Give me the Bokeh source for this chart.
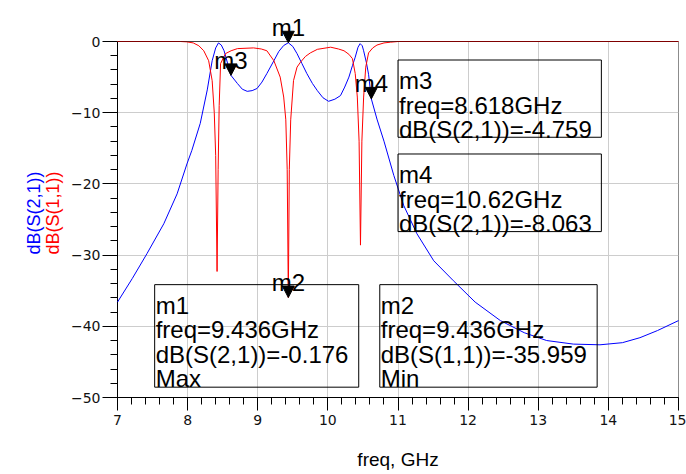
from bokeh.plotting import figure
from bokeh.models import Range1d, FixedTicker, Span, ColumnDataSource
from bokeh.core.properties import value
from bokeh.embed import file_html
from bokeh.resources import INLINE

# ---------------- data ----------------
freq_s21 = [7.0, 7.21, 7.42, 7.66, 7.85, 7.99, 8.06, 8.18, 8.28, 8.35, 8.40, 8.44,
            8.48, 8.52, 8.618, 8.71, 8.78, 8.85, 8.92, 8.99, 9.06, 9.13, 9.23, 9.30,
            9.37, 9.436, 9.50, 9.56, 9.63, 9.70, 9.78, 9.85, 9.93, 10.01, 10.10,
            10.18, 10.24, 10.30, 10.35, 10.39, 10.43, 10.46, 10.49, 10.51, 10.55,
            10.58, 10.62, 10.70, 10.80, 10.94, 11.08, 11.27, 11.51, 11.79, 12.10,
            12.46, 12.80, 13.12, 13.50, 13.88, 14.20, 14.45, 14.70, 15.0]
db_s21 = [-36.6, -33.3, -29.8, -25.6, -21.4, -17.2, -15.3, -11.5, -6.8, -2.7, -0.9, -0.2,
          -0.5, -1.3, -4.759, -5.9, -6.7, -7.0, -6.9, -6.6, -5.7, -4.5, -2.7, -1.4,
          -0.56, -0.176, -0.7, -1.7, -3.1, -4.5, -5.9, -6.9, -7.9, -8.4, -8.1,
          -7.6, -6.4, -5.0, -3.4, -2.2, -0.8, -0.3, -0.6, -1.3, -3.0,
          -4.6, -8.063, -10.9, -14.0, -18.8, -23.0, -27.0, -30.8, -33.6, -36.6,
          -39.2, -40.9, -42.0, -42.5, -42.6, -42.3, -41.6, -40.6, -39.2]

freq_s11 = [7.0, 7.5, 7.9, 7.99, 8.08, 8.16, 8.23, 8.30, 8.35, 8.38, 8.40, 8.42,
            8.435, 8.45, 8.47, 8.54, 8.62, 8.71, 8.94, 9.05, 9.13, 9.23, 9.32, 9.37,
            9.40, 9.42, 9.436, 9.45, 9.47, 9.51, 9.56, 9.61, 9.68, 9.75, 9.85,
            10.04, 10.15, 10.23, 10.30, 10.35, 10.39, 10.42, 10.445, 10.465, 10.485,
            10.51, 10.54, 10.58, 10.64, 10.70, 10.80, 10.89, 11.0, 15.0]
db_s11 = [0.0, 0.0, 0.0, -0.05, -0.2, -0.6, -1.3, -2.7, -5.5, -10.0, -16.0, -32.3,
          -18.0, -9.0, -3.1, -1.7, -1.3, -1.0, -0.9, -1.05, -1.3, -2.7, -5.0, -7.8,
          -11.0, -18.0, -35.959, -18.0, -11.0, -5.5, -3.6, -2.9, -2.1, -1.6, -1.1,
          -0.8, -1.05, -1.3, -1.8, -2.4, -4.5, -7.8, -14.0, -28.6, -14.0,
          -7.8, -3.6, -1.6, -0.9, -0.5, -0.2, -0.1, 0.0, 0.0]

marker_names = ["m1", "m2", "m3", "m4"]
marker_freq = [9.436, 9.436, 8.618, 10.62]
marker_db = [-0.176, -35.959, -4.759, -8.063]
marker_trace = ["S(2,1)", "S(1,1)", "S(2,1)", "S(2,1)"]
marker_note = ["Max", "Min", "", ""]

x_ticks = [7, 8, 9, 10, 11, 12, 13, 14, 15]
y_ticks = [-50, -40, -30, -20, -10, 0]

# ---------------- layout ----------------
W, H = 686, 474
B_LEFT, B_RIGHT, B_TOP, B_BOTTOM = 117, 8, 41, 77
X0, X1, Y0, Y1 = 7, 15, -50, 0
PXX = (W - B_LEFT - B_RIGHT) / (X1 - X0)
PXY = (H - B_TOP - B_BOTTOM) / (Y1 - Y0)

def dx(px):
    return px / PXX

def dy(px):
    return px / PXY

p = figure(width=W, height=H, output_backend="svg", toolbar_location=None,
           x_range=Range1d(X0, X1), y_range=Range1d(Y0, Y1),
           min_border_left=B_LEFT, min_border_right=B_RIGHT,
           min_border_top=B_TOP, min_border_bottom=B_BOTTOM)
p.background_fill_color = "white"
p.border_fill_color = "white"
p.outline_line_color = "#8c8c8c"
p.outline_line_width = 1

xminor = [round(X0 + i * 0.2, 2) for i in range(int((X1 - X0) / 0.2) + 1)]
yminor = [Y0 + 2 * i for i in range(int((Y1 - Y0) / 2) + 1)]
p.xaxis.ticker = FixedTicker(ticks=x_ticks, minor_ticks=xminor)
p.yaxis.ticker = FixedTicker(ticks=y_ticks, minor_ticks=yminor)

for ax, mto in ((p.xaxis, 13), (p.yaxis, 15)):
    ax.axis_line_color = "black"
    ax.axis_line_width = 1
    ax.major_tick_line_color = "black"
    ax.minor_tick_line_color = "black"
    ax.major_tick_in = 0
    ax.minor_tick_in = 0
    ax.major_tick_out = mto
    ax.minor_tick_out = 7
    ax.major_label_text_font = "DejaVu Sans"
    ax.major_label_text_font_size = "14px"
    ax.major_label_text_color = "#111111"
p.xaxis.major_label_standoff = 4
p.yaxis.major_label_standoff = 2

p.grid.grid_line_color = "#cdcdcd"
p.grid.grid_line_width = 1

p.add_layout(Span(location=0, dimension="width", line_color="black", line_width=1))

# curves
p.line(freq_s21, db_s21, line_color="#0000ff", line_width=1, level="annotation")
p.line(freq_s11, db_s11, line_color="#ff0000", line_width=1, level="annotation")

# markers: inverted triangles with tip on the data point
tri_xs, tri_ys = [], []
for f, d in zip(marker_freq, marker_db):
    tri_xs.append([f - dx(6), f + dx(6), f])
    tri_ys.append([d + dy(11.5), d + dy(11.5), d])
p.patches(tri_xs, tri_ys, fill_color="black", line_color="black", line_width=1,
          level="overlay")
p.text(x=marker_freq, y=marker_db, text=marker_names, y_offset=-15,
       text_align="center", text_baseline="alphabetic",
       text_font=value("Liberation Sans"), text_font_size="24px",
       text_color="black", level="overlay")

# readout boxes (left, right, top, bottom) in data units
box_left = [7.53, 10.74, 11.0, 11.0]
box_right = [10.44, 13.84, 13.9, 13.9]
box_top = [-34.15, -34.15, -2.6, -15.8]
box_bottom = [-48.55, -48.55, -13.45, -26.7]
p.quad(left=box_left, right=box_right, top=box_top, bottom=box_bottom,
       fill_color=None, line_color="black", line_width=1, level="overlay")

tx, ty, tt, toff = [], [], [], []
for i, name in enumerate(marker_names):
    lines = [name,
             "freq={:.4g}GHz".format(marker_freq[i]),
             "dB({})={:.3f}".format(marker_trace[i], marker_db[i])]
    if marker_note[i]:
        lines.append(marker_note[i])
    for k, s in enumerate(lines):
        tx.append(box_left[i] + dx(1))
        ty.append(box_top[i])
        tt.append(s)
        toff.append(20.7 + 24.5 * k)
src = ColumnDataSource(dict(x=tx, y=ty, text=tt, yo=toff))
p.text(x="x", y="y", text="text", y_offset="yo", source=src,
       text_align="left", text_baseline="alphabetic",
       text_font=value("Liberation Sans"), text_font_size="24px",
       text_color="black", level="overlay")

# axis titles
ymid = (Y0 + Y1) / 2 + dy(6.5)
p.text(x=[X0 - dx(84)], y=[ymid], text=["dB(S(2,1))"], angle=1.5707963,
       text_align="center", text_baseline="alphabetic",
       text_font=value("Liberation Sans"), text_font_size="18px",
       text_color="#0000ff", level="overlay")
p.text(x=[X0 - dx(65)], y=[ymid], text=["dB(S(1,1))"], angle=1.5707963,
       text_align="center", text_baseline="alphabetic",
       text_font=value("Liberation Sans"), text_font_size="18px",
       text_color="#ff0000", level="overlay")
p.text(x=[(X0 + X1) / 2], y=[Y0], text=["freq, GHz"], y_offset=[62],
       text_align="center", text_baseline="alphabetic",
       text_font=value("Liberation Sans"), text_font_size="19px",
       text_color="black", level="overlay")

open("out.html", "w").write(file_html(p, INLINE))
